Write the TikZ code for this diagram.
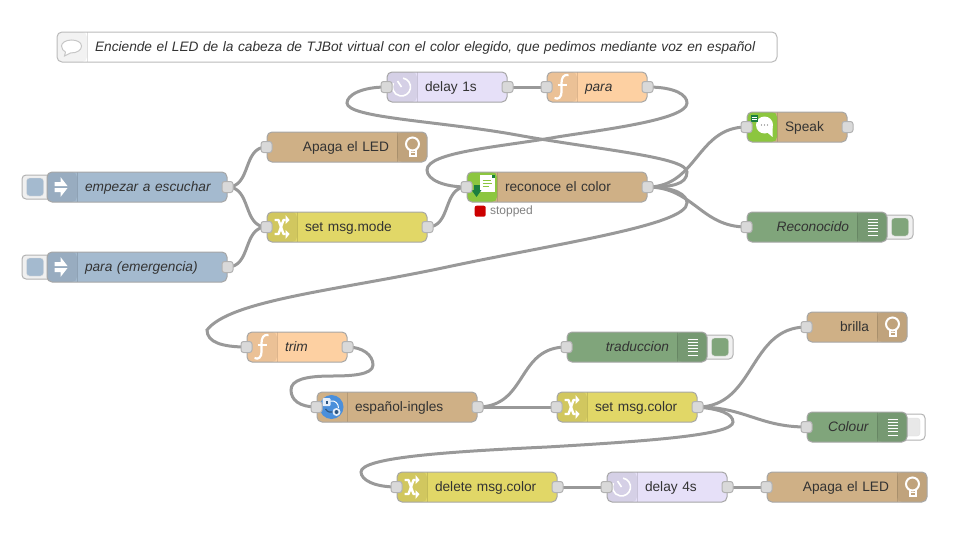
\documentclass[tikz,border=0pt]{standalone}
\usepackage{fontspec}
\setmainfont{Liberation Sans}
\usepackage{xcolor}
\usetikzlibrary{arrows, positioning, backgrounds}
\definecolor{injectblue}{HTML}{A4BACF}
\definecolor{tanbrown}{HTML}{CFB086}
\definecolor{changeyellow}{HTML}{E1D767}
\definecolor{funcorange}{HTML}{FDD0A2}
\definecolor{delaylilac}{HTML}{E6E0F8}
\definecolor{debuggreen}{HTML}{80A57B}
\definecolor{wiregrey}{HTML}{999999}
\definecolor{labelgrey}{HTML}{333333}
\definecolor{applegreen}{HTML}{8CC63F}
\definecolor{darkleaf}{HTML}{1B7F3F}
\definecolor{translateblue}{HTML}{4A8FDB}
\tikzset{
    flownode/.style={
        rectangle,
        rounded corners=5pt,
        draw=black!35,
        line width=1pt,
        minimum height=30pt,
        inner xsep=0pt,
        inner ysep=0pt,
        text height=12pt,
        text depth=3pt,
        text=labelgrey,
        font=\fontsize{13.7}{16}\selectfont,
    },
    wide/.style={
        text width=#1pt,
    },
    iconshade/.style={
        black,
        fill opacity=.07,
    },
    iconleft/.style={
        align=left,
        execute at begin node=\hspace*{38pt},
        path picture={
            \fill[#1] (path picture bounding box.north west) rectangle ([xshift=30pt]path picture bounding box.south west);
            \draw[black,opacity=.12,line width=1pt] ([xshift=30pt]path picture bounding box.north west) -- ([xshift=30pt]path picture bounding box.south west);
        },
    },
    iconleft/.default=iconshade,
    iconright/.style={
        align=right,
        execute at end node=\hspace*{38pt},
        path picture={
            \fill[iconshade] (path picture bounding box.north east) rectangle ([xshift=-30pt]path picture bounding box.south east);
            \draw[black,opacity=.12,line width=1pt] ([xshift=-30pt]path picture bounding box.north east) -- ([xshift=-30pt]path picture bounding box.south east);
        },
    },
    port/.style={
        rectangle,
        rounded corners=2.5pt,
        draw=black!30,
        fill=black!15,
        line width=1pt,
        minimum size=11pt,
        inner sep=0pt,
    },
    buttonbox/.style={
        rectangle,
        rounded corners=4pt,
        draw=black!30,
        fill=black!6,
        line width=1pt,
        inner sep=0pt,
    },
    buttoncore/.style={
        rectangle,
        rounded corners=3pt,
        draw=black!12,
        inner sep=0pt,
    },
    wire/.style={
        draw=wiregrey,
        line width=3pt,
    },
    bulb/.pic={
        \draw[white,line width=2pt] (-3,2) -- (-3,9) -- (3,9) -- (3,2);
        \draw[white,line width=2pt] (0,-3) circle (6.5);
        \draw[white,line width=1pt] (-3,5) -- (3,5);
    },
    debuglines/.pic={
        \foreach \ypos in {-8,-4.8,-1.6,1.6,4.8,8}
            \draw[white,line width=1pt] (-5,\ypos) -- (5,\ypos);
    },
    injectarrow/.pic={
        \fill[white] (-7,-5) -- (-1,-5) -- (-1,-10) -- (6,-1) -- (-7,-1) -- cycle;
        \fill[white] (-7,5) -- (-1,5) -- (-1,10) -- (6,1) -- (-7,1) -- cycle;
    },
    shuffle/.pic={
        \draw[white,line width=2.4pt,line join=round] (-7,-7) -- (-3,-7) -- (2,7) -- (4,7);
        \draw[white,line width=2.4pt,line join=round] (-7,7) -- (-3,7) -- (2,-7) -- (4,-7);
        \fill[white] (4,-12) -- (8,-7) -- (4,-3) -- cycle;
        \fill[white] (4,12) -- (8,7) -- (4,3) -- cycle;
    },
    fsign/.pic={
        \draw[white,line width=2.2pt] (7,-12) .. controls (2,-13) and (0,-9) .. (0,-4) -- (0,5) .. controls (0,10) and (-3,13) .. (-7,11);
        \draw[white,line width=1.6pt] (-4,-2) -- (5,-2);
    },
    clock/.pic={
        \draw[white,line width=1.6pt] (-80:9) arc (-80:205:9);
        \draw[white,line width=1.6pt] (0,0) -- (-4,-6);
    },
    bubble/.pic={
        \draw[black!22,fill=white,line width=1pt] (-6,5) -- (-7,9) -- (-1,6) .. controls (6,6) and (10,3) .. (10,-1) .. controls (10,-5) and (5,-7) .. (0,-7) .. controls (-6,-7) and (-10,-4) .. (-10,-1) .. controls (-10,2) and (-8,4) .. (-6,5);
    },
    voicedoc/.pic={
        \fill[white] (-2,-12) rectangle (13,5);
        \fill[darkleaf] (10,-12) rectangle (13,-9);
        \draw[applegreen,line width=1pt] (1,-7) -- (9,-7) (1,-4) -- (10,-4) (1,-1) -- (7,-1);
        \fill[darkleaf] (-8,-2) rectangle (-2,4);
        \fill[darkleaf] (-10,3) -- (0,3) -- (-5,10) -- cycle;
    },
    speakbubble/.pic={
        \fill[white] (3,-2) circle (8.5);
        \fill[white] (4,4) -- (11,10) -- (11,0) -- cycle;
        \fill[darkleaf] (-11,-12) rectangle (-4,-5);
        \draw[white,line width=.8pt] (-10,-10) -- (-5,-10) (-10,-7.5) -- (-5,-7.5);
        \fill[black!60] (0,-2) circle (.7) (3,-2) circle (.7) (6,-2) circle (.7);
    },
    translate/.pic={
        \fill[translateblue] (0,0) circle (12);
        \fill[white!85!translateblue,rounded corners=1pt] (-9,-9) rectangle (-1,-1);
        \fill[translateblue!60!black] (-6,-6.5) rectangle (-4,-3.5);
        \draw[white,line width=1pt] (-1,-6) .. controls (4,-7) and (7,-3) .. (7,1);
        \draw[translateblue!60!black,line width=1.2pt] (-6,2) .. controls (-4,5) and (-1,6) .. (2,5);
        \fill[white!85!translateblue] (5,5) circle (4);
        \fill[translateblue!60!black] (5,5) circle (2);
    },
}
\begin{document}
\begin{tikzpicture}[x=1pt,y=-1pt]
    \useasboundingbox (0,0) rectangle (971,538);

    % comment
    \node [flownode, wide=720, iconleft={black!5}, draw=black!27, fill=white] (note) at (417,47) {\textit{Enciende el LED de la cabeza de TJBot virtual con el color elegido, que pedimos mediante voz en español}};
    \pic at ([xshift=15pt]note.west) {bubble};

    % first row of the flow
    \node [buttonbox, minimum width=32pt, minimum height=24pt] (empezar-btn) at (38,187) {};
    \node [buttoncore, fill=injectblue, minimum width=17pt, minimum height=18pt] (empezar-core) at (35,187) {};
    \node [buttonbox, minimum width=32pt, minimum height=24pt] (emergencia-btn) at (38,267) {};
    \node [buttoncore, fill=injectblue, minimum width=17pt, minimum height=18pt] (emergencia-core) at (35,267) {};
    \node [flownode, wide=180, iconleft, fill=injectblue] (empezar) at (137,187) {\textit{empezar a escuchar}};
    \node [flownode, wide=180, iconleft, fill=injectblue] (emergencia) at (137,267) {\textit{para (emergencia)}};
    \node [flownode, wide=160, iconright, fill=tanbrown] (apaga) at (347,147) {Apaga el LED};
    \node [flownode, wide=160, iconleft, fill=changeyellow] (setmode) at (347,227) {set msg.mode};
    \node [flownode, wide=120, iconleft, fill=delaylilac] (delayone) at (447,87) {delay 1s};
    \node [flownode, wide=100, iconleft, fill=funcorange] (para) at (597,87) {\textit{para}};
    \node [flownode, wide=180, iconleft=applegreen, fill=tanbrown] (reconoce) at (557,187) {reconoce el color};
    \node [flownode, wide=100, iconleft=applegreen, fill=tanbrown] (speak) at (797,127) {Speak};
    \node [buttonbox, minimum width=32pt, minimum height=24pt] (reconocido-btn) at (897,227) {};
    \node [buttoncore, fill=debuggreen, minimum width=17pt, minimum height=18pt] (reconocido-core) at (900,227) {};
    \node [flownode, wide=140, iconright, fill=debuggreen] (reconocido) at (817,227) {\textit{Reconocido}};

    \node [below=3pt of reconoce.south west, xshift=8pt, anchor=north west, rectangle, inner sep=0pt, rounded corners=2pt, fill=red!80!black, minimum width=11pt, minimum height=11pt] (stopped-dot) {};
    \node [right=4pt of stopped-dot, inner sep=0pt, text=black!50, font=\fontsize{12}{14}\selectfont] (stopped) {stopped};

    % second part
    \node [flownode, wide=100, iconleft, fill=funcorange] (trim) at (297,347) {\textit{trim}};
    \node [flownode, wide=160, iconleft=tanbrown, fill=tanbrown] (espanol) at (397,407) {español-ingles};
    \node [buttonbox, minimum width=32pt, minimum height=24pt] (traduccion-btn) at (717,347) {};
    \node [buttoncore, fill=debuggreen, minimum width=17pt, minimum height=18pt] (traduccion-core) at (720,347) {};
    \node [flownode, wide=140, iconright, fill=debuggreen] (traduccion) at (637,347) {\textit{traduccion}};
    \node [flownode, wide=140, iconleft, fill=changeyellow] (setcolor) at (627,407) {set msg.color};
    \node [flownode, wide=100, iconright, fill=tanbrown] (brilla) at (857,327) {brilla};
    \node [buttonbox, fill=white, minimum width=28pt, minimum height=26pt] (colour-btn) at (911,427) {};
    \node [buttoncore, fill=black!9, minimum width=24pt, minimum height=18pt] (colour-core) at (908,427) {};
    \node [flownode, wide=100, iconright, fill=debuggreen] (colour) at (857,427) {\textit{Colour}};
    \node [flownode, wide=160, iconleft, fill=changeyellow] (delcolor) at (477,487) {delete msg.color};
    \node [flownode, wide=120, iconleft, fill=delaylilac] (delayfour) at (667,487) {delay 4s};
    \node [flownode, wide=160, iconright, fill=tanbrown] (apagados) at (847,487) {Apaga el LED};

    % icons
    \pic at ([xshift=15pt]empezar.west) {injectarrow};
    \pic at ([xshift=15pt]emergencia.west) {injectarrow};
    \pic at ([xshift=-15pt]apaga.east) {bulb};
    \pic at ([xshift=15pt]setmode.west) {shuffle};
    \pic at ([xshift=15pt]delayone.west) {clock};
    \pic at ([xshift=15pt]para.west) {fsign};
    \pic at ([xshift=15pt]reconoce.west) {voicedoc};
    \pic at ([xshift=15pt]speak.west) {speakbubble};
    \pic at ([xshift=-15pt]reconocido.east) {debuglines};
    \pic at ([xshift=15pt]trim.west) {fsign};
    \pic at ([xshift=15pt]espanol.west) {translate};
    \pic at ([xshift=-15pt]traduccion.east) {debuglines};
    \pic at ([xshift=15pt]setcolor.west) {shuffle};
    \pic at ([xshift=-15pt]brilla.east) {bulb};
    \pic at ([xshift=-15pt]colour.east) {debuglines};
    \pic at ([xshift=15pt]delcolor.west) {shuffle};
    \pic at ([xshift=15pt]delayfour.west) {clock};
    \pic at ([xshift=-15pt]apagados.east) {bulb};

    % ports
    \node [port] (empezar-out) at (empezar.east) {};
    \node [port] (emergencia-out) at (emergencia.east) {};
    \node [port] (apaga-in) at (apaga.west) {};
    \node [port] (setmode-in) at (setmode.west) {};
    \node [port] (setmode-out) at (setmode.east) {};
    \node [port] (delayone-in) at (delayone.west) {};
    \node [port] (delayone-out) at (delayone.east) {};
    \node [port] (para-in) at (para.west) {};
    \node [port] (para-out) at (para.east) {};
    \node [port] (reconoce-in) at (reconoce.west) {};
    \node [port] (reconoce-out) at (reconoce.east) {};
    \node [port] (speak-in) at (speak.west) {};
    \node [port] (speak-out) at (speak.east) {};
    \node [port] (reconocido-in) at (reconocido.west) {};
    \node [port] (trim-in) at (trim.west) {};
    \node [port] (trim-out) at (trim.east) {};
    \node [port] (espanol-in) at (espanol.west) {};
    \node [port] (espanol-out) at (espanol.east) {};
    \node [port] (traduccion-in) at (traduccion.west) {};
    \node [port] (setcolor-in) at (setcolor.west) {};
    \node [port] (setcolor-out) at (setcolor.east) {};
    \node [port] (brilla-in) at (brilla.west) {};
    \node [port] (colour-in) at (colour.west) {};
    \node [port] (delcolor-in) at (delcolor.west) {};
    \node [port] (delcolor-out) at (delcolor.east) {};
    \node [port] (delayfour-in) at (delayfour.west) {};
    \node [port] (delayfour-out) at (delayfour.east) {};
    \node [port] (apagados-in) at (apagados.west) {};

    % bends of the wires that run backwards
    \coordinate (up-a) at (687,172);
    \coordinate (up-b) at (517,135);
    \coordinate (up-c) at (347,103);
    \coordinate (para-a) at (687,103);
    \coordinate (para-b) at (557,137);
    \coordinate (para-c) at (427,170);
    \coordinate (down-a) at (687,203);
    \coordinate (down-b) at (447,267);
    \coordinate (down-c) at (207,330);
    \coordinate (trim-a) at (373,365);
    \coordinate (trim-b) at (332,376);
    \coordinate (trim-c) at (291,390);
    \coordinate (del-a) at (733,422);
    \coordinate (del-b) at (547,447);
    \coordinate (del-c) at (361,472);

    \begin{scope}[on background layer]
        \path[wire] (empezar-out.center) edge [out=0,in=180,looseness=1.1] (apaga-in.center);
        \path[wire] (empezar-out.center) edge [out=0,in=180,looseness=1.1] (setmode-in.center);
        \path[wire] (emergencia-out.center) edge [out=0,in=180,looseness=1.1] (setmode-in.center);
        \path[wire] (setmode-out.center) edge [out=0,in=180,looseness=1.1] (reconoce-in.center);
        \path[wire] (reconoce-out.center) edge [out=0,in=180,looseness=1.1] (speak-in.center);
        \path[wire] (reconoce-out.center) edge [out=0,in=180,looseness=1.1] (reconocido-in.center);
        \path[wire] (espanol-out.center) edge [out=0,in=180,looseness=1.2] (traduccion-in.center);
        \path[wire] (setcolor-out.center) edge [out=0,in=180,looseness=1.1] (brilla-in.center);
        \path[wire] (setcolor-out.center) edge [out=0,in=180,looseness=1.1] (colour-in.center);
        \draw[wire] (delayone-out.center) -- (para-in.center);
        \draw[wire] (espanol-out.center) -- (setcolor-in.center);
        \draw[wire] (delcolor-out.center) -- (delayfour-in.center);
        \draw[wire] (delayfour-out.center) -- (apagados-in.center);

        \draw[wire] (reconoce-out.center) .. controls +(23,0) and +(0,13) .. (up-a) .. controls +(0,-15) and +(83,15) .. (up-b) .. controls +(-77,-14) and +(0,15) .. (up-c) .. controls +(0,-8) and +(-25,0) .. (delayone-in.center);
        \draw[wire] (para-out.center) .. controls +(28,0) and +(0,-8) .. (para-a) .. controls +(0,17) and +(43,-7) .. (para-b) .. controls +(-57,10) and +(0,-18) .. (para-c) .. controls +(0,10) and +(-22,0) .. (reconoce-in.center);
        \draw[wire] (reconoce-out.center) .. controls +(28,0) and +(0,-8) .. (down-a) .. controls +(0,22) and +(113,-24) .. (down-b) .. controls +(-107,23) and +(23,-30) .. (down-c) .. controls +(0,12) and +(-25,0) .. (trim-in.center);
        \draw[wire] (trim-out.center) .. controls +(15,0) and +(0,-10) .. (trim-a) .. controls +(0,10) and +(18,0) .. (trim-b) .. controls +(-27,0) and +(0,-10) .. (trim-c) .. controls +(0,10) and +(-17,0) .. (espanol-in.center);
        \draw[wire] (setcolor-out.center) .. controls +(23,2) and +(0,-8) .. (del-a) .. controls +(0,13) and +(103,-6) .. (del-b) .. controls +(-107,5) and +(0,-14) .. (del-c) .. controls +(0,8) and +(-22,0) .. (delcolor-in.center);
    \end{scope}
\end{tikzpicture}
\end{document}
